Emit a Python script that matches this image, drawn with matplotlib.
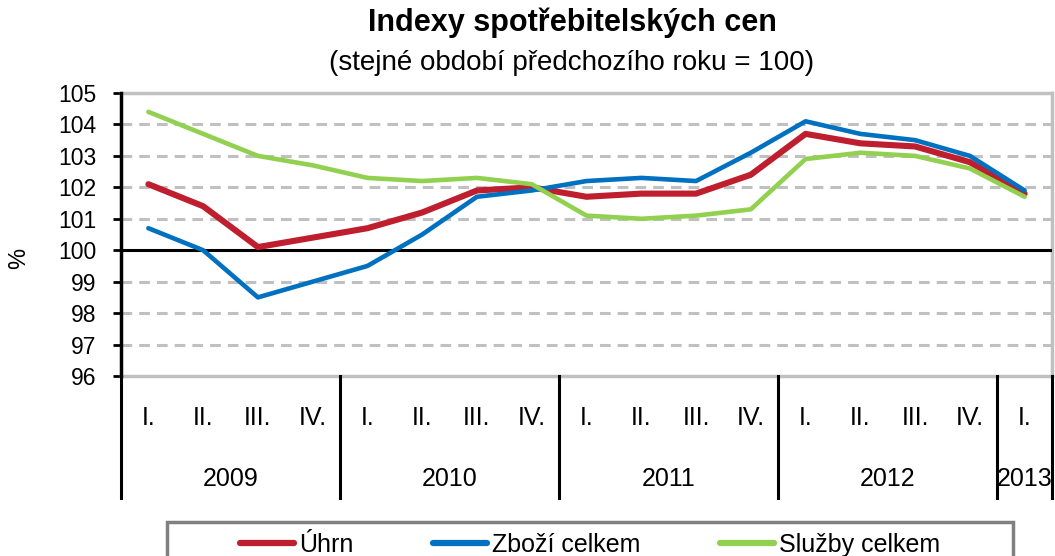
import matplotlib.pyplot as plt
import matplotlib.transforms as mtransforms
from matplotlib.patches import Rectangle
import numpy as np

plt.rcParams['font.family'] = ['Liberation Sans', 'DejaVu Sans']

#%% DATA

quarters = ["I.", "II.", "III.", "IV.",
            "I.", "II.", "III.", "IV.",
            "I.", "II.", "III.", "IV.",
            "I.", "II.", "III.", "IV.",
            "I."]
years = ["2009", "2010", "2011", "2012", "2013"]
year_sizes = [4, 4, 4, 4, 1]

uhrn = [102.1, 101.4, 100.1, 100.4, 100.7, 101.2, 101.9, 102.0,
        101.7, 101.8, 101.8, 102.4, 103.7, 103.4, 103.3, 102.8, 101.8]
zbozi = [100.7, 100.0, 98.5, 99.0, 99.5, 100.5, 101.7, 101.9,
         102.2, 102.3, 102.2, 103.1, 104.1, 103.7, 103.5, 103.0, 101.9]
sluzby = [104.4, 103.7, 103.0, 102.7, 102.3, 102.2, 102.3, 102.1,
          101.1, 101.0, 101.1, 101.3, 102.9, 103.1, 103.0, 102.6, 101.7]

#%% PLOT

fig = plt.figure(figsize=(10.55, 5.56), dpi=100)
ax = fig.add_axes([121 / 1055, 1 - 376 / 556, (1052 - 121) / 1055, (376 - 93) / 556])

x = np.arange(len(quarters))
ax.plot(x, uhrn, color="#BE1E2D", lw=4.4, label="Úhrn", solid_capstyle="round", zorder=4)
ax.plot(x, zbozi, color="#0070C0", lw=3.3, label="Zboží celkem", solid_capstyle="round", zorder=5)
ax.plot(x, sluzby, color="#92D050", lw=3.3, label="Služby celkem", solid_capstyle="round", zorder=6)

ax.set_xlim(-0.5, len(quarters) - 0.5)
ax.set_ylim(96, 105)
ax.set_yticks(range(96, 106))

# gridlines
for yv in range(97, 105):
    if yv == 100:
        ax.axhline(yv, color="black", lw=2.2, zorder=3)
    else:
        ax.axhline(yv, color="#C0C0C0", lw=2.2, ls=(0, (3.5, 2.3)), zorder=1)

for side in ["top", "right", "bottom"]:
    ax.spines[side].set_color("#C0C0C0")
    ax.spines[side].set_linewidth(2.5)
ax.spines["left"].set_color("black")
ax.spines["left"].set_linewidth(2.5)
ax.spines["left"].set_zorder(7)

ax.tick_params(axis="y", direction="out", length=6, width=2, labelsize=16.5, pad=12)
ax.set_xticks([])
fig.text(19 / 1055, 1 - 258 / 556, "%", rotation=90, ha="center", va="center", fontsize=17)

# multi-level category axis
trans = mtransforms.blended_transform_factory(ax.transData, ax.transAxes)
for i, q in enumerate(quarters):
    ax.text(i, -0.148, q, transform=trans, ha="center", va="center", fontsize=18)

start = 0
bounds = [-0.5]
for yr, n in zip(years, year_sizes):
    ax.text(start + (n - 1) / 2, -0.365, yr, transform=trans, ha="center", va="center", fontsize=18)
    start += n
    bounds.append(start - 0.5)
for b in bounds:
    ax.plot([b, b], [0, -0.43], transform=trans, color="black", lw=2.2, clip_on=False, zorder=8)

fig.text(572 / 1055, 1 - 23 / 556, "Indexy spotřebitelských cen", ha="center", va="center",
         fontsize=22, fontweight="bold")
fig.text(572 / 1055, 1 - 63 / 556, "(stejné období předchozího roku = 100)", ha="center", va="center",
         fontsize=20)

# legend box (runs off the bottom edge)
fig.patches.append(Rectangle((167 / 1055, -0.05), (1013 - 167) / 1055, (0.05 + 1 - 522 / 556),
                             transform=fig.transFigure, facecolor="white", edgecolor="#808080",
                             lw=2.5, zorder=1))
leg = fig.legend(loc="center", bbox_to_anchor=(590 / 1055, 1 - 545 / 556), ncol=3,
                 fontsize=18, frameon=False, handlelength=2.15, handletextpad=0.2,
                 columnspacing=3.2, borderpad=0.0)
leg.set_zorder(2)
for h in leg.get_lines():
    h.set_linewidth(4.5)

fig.savefig("out.png", dpi=100)
